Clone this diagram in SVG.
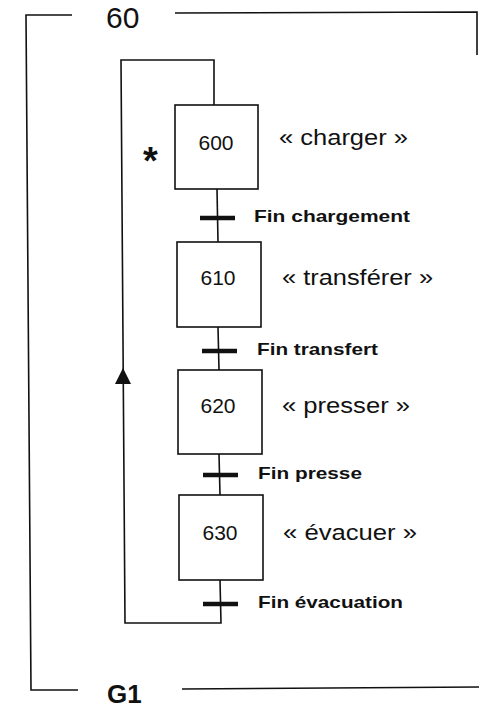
<svg xmlns="http://www.w3.org/2000/svg" width="479" height="708" viewBox="0 0 479 708">
<defs>
<style>
.ln{fill:none;stroke:#111;stroke-width:1.6;stroke-linejoin:miter}
.box{fill:#fff;stroke:#111;stroke-width:1.6}
.bar{stroke:#111;stroke-width:4.5}
.num{font-family:"Liberation Sans",Arial,sans-serif;font-size:21px;fill:#111;text-anchor:middle}
.act{font-family:"Liberation Sans",Arial,sans-serif;font-size:22px;fill:#111}
.cond{font-family:"Liberation Sans",Arial,sans-serif;font-size:17px;font-weight:bold;fill:#111}
.big{font-family:"Liberation Sans",Arial,sans-serif;fill:#111}
</style>
<marker id="ah" viewBox="0 0 16 16" refX="8" refY="0" markerWidth="16" markerHeight="16" markerUnits="userSpaceOnUse" orient="auto-start-reverse">
<path d="M0,16 L8,0 L16,16 Z" fill="#111"/>
</marker>
</defs>

<g id="frame">
<path class="ln" d="M72,15 L26,15 L31,690 L78,690"/>
<path class="ln" d="M175,13 L477,12 L477,55"/>
<path class="ln" d="M182,689 L479,687"/>
<text class="big" x="106" y="28" font-size="30">60</text>
<text class="big" x="107" y="703" font-size="26" font-weight="bold">G1</text>
</g>

<g id="connectors">
<path class="ln" d="M217,189 L218,242"/>
<path class="ln" d="M218,327 L219,370"/>
<path class="ln" d="M219,454 L220,495"/>
<path class="ln" d="M220,580 L221,623 L125,623 L121,60 L214,60 L214,105"/>
<line class="bar" x1="200" y1="218" x2="235" y2="218"/>
<line class="bar" x1="202" y1="351" x2="237" y2="351"/>
<line class="bar" x1="203" y1="475" x2="238" y2="475"/>
<line class="bar" x1="203" y1="604" x2="238" y2="604"/>
<path d="M123,368 L131,384 L115,384 Z" fill="#111"/>
<text class="cond" x="254" y="222" textLength="156" lengthAdjust="spacingAndGlyphs">Fin chargement</text>
<text class="cond" x="257" y="355" textLength="121" lengthAdjust="spacingAndGlyphs">Fin transfert</text>
<text class="cond" x="258" y="479" textLength="104" lengthAdjust="spacingAndGlyphs">Fin presse</text>
<text class="cond" x="258" y="608" textLength="145" lengthAdjust="spacingAndGlyphs">Fin évacuation</text>
</g>

<g id="step600">
<rect class="box" x="175" y="105" width="83" height="84"/>
<text class="num" x="216" y="150">600</text>
<text class="act" x="279" y="145" textLength="129" lengthAdjust="spacingAndGlyphs">« charger »</text>
<text class="big" x="143" y="174" font-size="38" font-weight="bold">*</text>
</g>

<g id="step610">
<rect class="box" x="177" y="242" width="84" height="85"/>
<text class="num" x="218" y="285">610</text>
<text class="act" x="282" y="285" textLength="151" lengthAdjust="spacingAndGlyphs">« transférer »</text>
</g>

<g id="step620">
<rect class="box" x="178" y="370" width="84" height="84"/>
<text class="num" x="218" y="413">620</text>
<text class="act" x="282" y="413" textLength="128" lengthAdjust="spacingAndGlyphs">« presser »</text>
</g>

<g id="step630">
<rect class="box" x="179" y="495" width="84" height="85"/>
<text class="num" x="220" y="540">630</text>
<text class="act" x="283" y="540" textLength="134" lengthAdjust="spacingAndGlyphs">« évacuer »</text>
</g>
</svg>
